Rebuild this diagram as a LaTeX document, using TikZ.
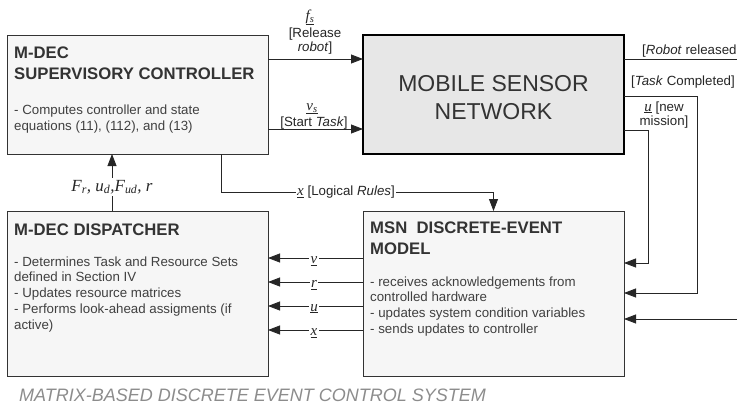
\documentclass[tikz,border=0pt]{standalone}
\usepackage{fontspec}
\setmainfont{Liberation Sans}
\newfontfamily\serifface{Liberation Serif}
\usetikzlibrary{arrows.meta,shadows}
\definecolor{boxfill}{RGB}{246,246,246}
\definecolor{msnfill}{RGB}{231,231,231}
\definecolor{headtext}{RGB}{51,51,51}
\definecolor{bodytext}{RGB}{64,64,64}
\definecolor{captiontext}{RGB}{140,140,140}
% underlined italic symbols, optionally with a subscript
\newcommand{\sym}[1]{\underline{\fontsize{15}{16}\selectfont\serifface\itshape #1}}
\newcommand{\symsub}[2]{\underline{\fontsize{15}{16}\selectfont\serifface\itshape #1\textsubscript{#2}}}
% stacked lines, left aligned or centred, baseline at the first line
\newcommand{\textlines}[1]{\parbox[t]{300pt}{\raggedright #1}}
\newcommand{\ctrlines}[1]{\parbox[t]{200pt}{\centering #1}}
\begin{document}
\begin{tikzpicture}[x=1pt,y=-1pt,
  panel/.style={draw=black!80, line width=0.7pt, fill=boxfill, anchor=north west,
    inner sep=0pt, outer sep=0pt, minimum width=261pt,
    drop shadow={shadow xshift=1pt, shadow yshift=-1.2pt, fill=black!45, opacity=1}},
  msnpanel/.style={draw=black, line width=2pt, fill=msnfill, anchor=north west,
    inner sep=0pt, outer sep=0pt, minimum width=261pt, minimum height=119pt},
  headtxt/.style={anchor=base west, inner sep=0pt, text=headtext,
    font=\fontsize{16.7}{21}\selectfont\bfseries},
  bodytxt/.style={anchor=base west, inner sep=0pt, text=bodytext,
    font=\fontsize{13.3}{15.8}\selectfont},
  lbl/.style={inner sep=0pt, text=black!85, font=\fontsize{13.3}{14.5}\selectfont},
  symlbl/.style={inner sep=0pt, text=black!85},
  tag/.style={symlbl, fill=white, inner xsep=1.5pt, inner ysep=1pt, anchor=base},
  wire/.style={draw=black!85, line width=0.8pt},
  arr/.style={wire, -{Triangle[length=12pt,width=9pt]}},
]
\useasboundingbox (0,0) rectangle (737,416);

% blocks
\node[panel, minimum height=119pt] (sup) at (7,35) {};
\node[msnpanel] (msn) at (363,35) {};
\node[panel, minimum height=165pt] (disp) at (7,211) {};
\node[panel, minimum height=165pt] (dem) at (363,211) {};

% block texts
\node[headtxt] (suphead) at (14,58) {\textlines{M-DEC\\SUPERVISORY CONTROLLER}};
\node[bodytxt, font=\fontsize{13.3}{15.5}\selectfont] (supbody) at (14,114.5)
  {\textlines{- Computes controller and state\\equations (11), (112), and (13)}};
\node[anchor=base, inner sep=0pt, text=headtext, font=\fontsize{23}{28.5}\selectfont]
  (msntitle) at (493.5,91) {\ctrlines{MOBILE SENSOR\\NETWORK}};
\node[headtxt] (disphead) at (14,235) {M-DEC DISPATCHER};
\node[bodytxt] (dispbody) at (14,266)
  {\textlines{- Determines Task and Resource Sets\\defined in Section IV\\- Updates resource matrices\\- Performs look-ahead assigments (if\\active)}};
\node[headtxt] (demhead) at (370,233) {\textlines{MSN\ \ DISCRETE-EVENT\\MODEL}};
\node[bodytxt] (dembody) at (370,286)
  {\textlines{- receives acknowledgements from\\controlled hardware\\- updates system condition variables\\- sends updates to controller}};

% controller -> sensor network
\draw[arr] ([yshift=-24pt]sup.north east) -- ([yshift=-24pt]msn.north west);
\draw[arr] ([yshift=-94pt]sup.north east) -- ([yshift=-94pt]msn.north west);
\node[symlbl, anchor=base] (fs) at (310,20) {\symsub{f}{s}};
\node[lbl, anchor=base] (fstext) at (315,37) {\ctrlines{{[}Release\\\textit{robot}]}};
\node[symlbl, anchor=base] (vs) at (312,110) {\symsub{v}{s}};
\node[lbl, anchor=base] (vstext) at (314,126) {[Start \textit{Task}]};

% sensor network outputs
\coordinate (robotend) at (737,59);
\draw[wire] ([yshift=-24pt]msn.north east) -- (robotend);
\node[lbl, anchor=base west] (robottext) at (642,54) {[\textit{Robot} released};
\node[lbl, anchor=base west] (tasktext) at (631,85.5) {[\textit{Task} Completed]};
\node[lbl, anchor=base] (newtext) at (664,111) {\ctrlines{\sym{u} [new\\mission]}};
\draw[arr] ([yshift=-61pt]msn.north east) -- (697,96) -- (697,293) -- ([yshift=-82pt]dem.north east);
\draw[arr] ([yshift=-95pt]msn.north east) -- (648,130) -- (648,263) -- ([yshift=-52pt]dem.north east);
\coordinate (hwin) at (737,319);
\draw[arr] (hwin) -- ([yshift=-108pt]dem.north east);

% dispatcher -> controller
\draw[arr] ([xshift=105pt]disp.north west) -- ([xshift=105pt]sup.south west);
\node[symlbl, fill=white, inner sep=2pt, font=\fontsize{17}{18}\selectfont\serifface\itshape]
  (flbl) at (112,187) {F\textsubscript{r}, u\textsubscript{d},F\textsubscript{ud}, r};

% logical rules -> event model
\draw[arr] ([xshift=214pt]sup.south west) |- ([yshift=19pt]dem.north) -- (dem.north);
\node[lbl, fill=white, inner xsep=1pt, inner ysep=2pt, anchor=west] (xrules) at (296,192)
  {\sym{x} [Logical \textit{Rules}]};

% event model -> dispatcher
\draw[arr] ([yshift=-47pt]dem.north west) -- ([yshift=-47pt]disp.north east);
\draw[arr] ([yshift=-71pt]dem.north west) -- ([yshift=-71pt]disp.north east);
\draw[arr] ([yshift=-95pt]dem.north west) -- ([yshift=-95pt]disp.north east);
\draw[arr] ([yshift=-119pt]dem.north west) -- ([yshift=-119pt]disp.north east);
\node[tag] (tv) at (314,263.5) {\sym{v}};
\node[tag] (tr) at (314,287.5) {\sym{r}};
\node[tag] (tu) at (314,311) {\sym{u}};
\node[tag] (tx) at (314,335.5) {\sym{x}};

% caption
\node[anchor=base west, inner sep=0pt, text=captiontext, font=\fontsize{18}{20}\selectfont\itshape]
  (caption) at (19,401.5) {MATRIX-BASED DISCRETE EVENT CONTROL SYSTEM};
\end{tikzpicture}
\end{document}
